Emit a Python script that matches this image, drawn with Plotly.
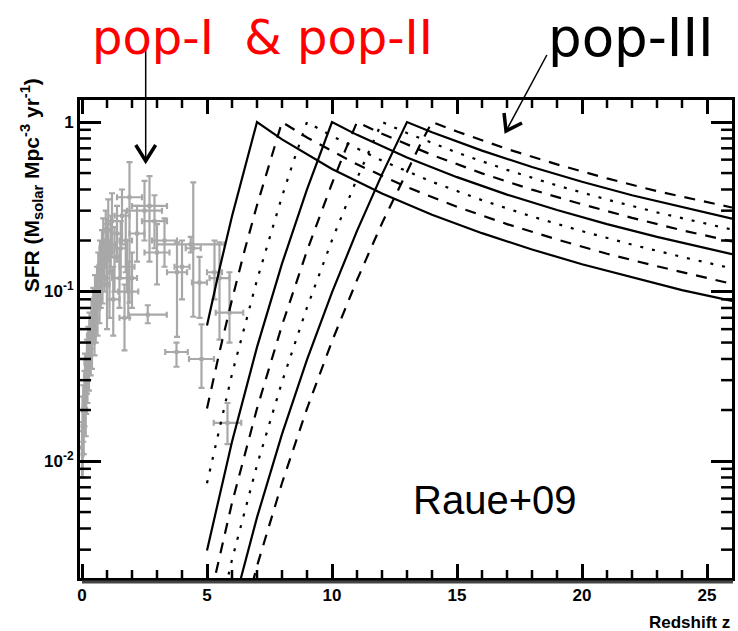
import plotly.graph_objects as go

# ---------------- data ----------------
# Pop-III star formation rate models (Raue+09), peak redshifts 7..14
pop3_peaks = [7, 8, 9, 10, 11, 12, 13, 14]
pop3_styles = ["solid", "dashed", "dotted", "solid", "dashed", "dotted", "solid", "dashed"]

z_p7 = [5, 5.5, 6, 6.5, 7, 8, 10, 12, 14, 16, 18, 20, 22, 24, 26]
s_p7 = [0.063, 0.136, 0.278, 0.538, 1.0, 0.79, 0.529, 0.379, 0.284, 0.221, 0.177, 0.145, 0.121, 0.102, 0.088]

z_p8 = [5, 5.5, 6, 6.5, 7, 7.5, 8, 9, 11, 13, 15, 17, 19, 21, 23, 26]
s_p8 = [0.0204, 0.044, 0.0896, 0.174, 0.323, 0.578, 1.0, 0.81, 0.563, 0.413, 0.316, 0.25, 0.203, 0.167, 0.141, 0.111]

z_p9 = [5, 6, 7, 8, 8.5, 9, 10, 12, 14, 16, 18, 20, 22, 24, 26]
s_p9 = [0.0074, 0.0326, 0.117, 0.364, 0.611, 1.0, 0.826, 0.592, 0.444, 0.346, 0.277, 0.227, 0.189, 0.16, 0.137]

z_p10 = [5, 6, 7, 8, 9, 9.5, 10, 11, 13, 15, 17, 19, 21, 23, 26]
s_p10 = [0.00297, 0.013, 0.047, 0.146, 0.40, 0.64, 1.0, 0.84, 0.617, 0.473, 0.373, 0.3025, 0.25, 0.21, 0.166]

z_p11 = [5, 6, 7, 8, 9, 10, 10.5, 11, 12, 14, 16, 18, 20, 22, 24, 26]
s_p11 = [0.00129, 0.00566, 0.0204, 0.0632, 0.174, 0.434, 0.665, 1.0, 0.852, 0.64, 0.498, 0.399, 0.327, 0.272, 0.23, 0.1975]

z_p12 = [5, 6, 7, 8, 9, 10, 11, 11.5, 12, 13, 15, 17, 19, 21, 23, 26]
s_p12 = [0.0006, 0.00262, 0.00946, 0.0293, 0.0806, 0.201, 0.464, 0.686, 1.0, 0.862, 0.66, 0.522, 0.4225, 0.349, 0.293, 0.232]

z_p13 = [6, 7, 8, 9, 10, 11, 12, 12.5, 13, 14, 16, 18, 20, 22, 24, 26]
s_p13 = [0.00129, 0.00465, 0.0144, 0.0396, 0.0988, 0.228, 0.491, 0.705, 1.0, 0.871, 0.678, 0.543, 0.444, 0.37, 0.314, 0.269]

z_p14 = [6, 7, 8, 9, 10, 11, 12, 13, 13.5, 14, 15, 17, 19, 21, 23, 26]
s_p14 = [0.00066, 0.0024, 0.00742, 0.0204, 0.0509, 0.117, 0.253, 0.516, 0.722, 1.0, 0.879, 0.694, 0.5625, 0.465, 0.391, 0.313]

pop3_z = [z_p7, z_p8, z_p9, z_p10, z_p11, z_p12, z_p13, z_p14]
pop3_s = [s_p7, s_p8, s_p9, s_p10, s_p11, s_p12, s_p13, s_p14]

# Pop-I/II SFR measurements (grey points with error bars)
obs_z = [0.0, 0.02, 0.03, 0.05, 0.07, 0.10, 0.12, 0.15, 0.17, 0.20, 0.22, 0.25, 0.28, 0.30, 0.35,
         0.38, 0.40, 0.45, 0.50, 0.52, 0.55, 0.60, 0.62, 0.65, 0.70, 0.72, 0.75, 0.80, 0.82, 0.85,
         0.90, 0.95, 1.00, 1.00, 1.05, 1.10, 1.15, 1.20, 1.25, 1.30, 1.40, 1.50, 1.55, 1.60, 1.70,
         1.75, 1.80, 1.90, 2.20, 2.50, 2.70, 2.90, 2.63, 3.00, 3.30, 3.80, 3.78, 4.35, 4.45, 4.00,
         4.70, 4.78, 5.30, 5.50, 5.90, 5.82, 2.00, 1.85]
obs_s = [0.012, 0.016, 0.011, 0.020, 0.015, 0.024, 0.032, 0.020, 0.028, 0.038, 0.030, 0.045, 0.036, 0.055, 0.045,
         0.065, 0.050, 0.075, 0.060, 0.090, 0.070, 0.100, 0.080, 0.120, 0.090, 0.140, 0.110, 0.160, 0.120, 0.180,
         0.140, 0.200, 0.110, 0.170, 0.230, 0.130, 0.190, 0.260, 0.090, 0.160, 0.220, 0.120, 0.180, 0.280, 0.070,
         0.200, 0.140, 0.360, 0.220, 0.300, 0.320, 0.260, 0.073, 0.170, 0.200, 0.130, 0.044, 0.190, 0.180, 0.140,
         0.113, 0.040, 0.130, 0.120, 0.075, 0.0168, 0.120, 0.100]
obs_zerr = [0.0, 0.02, 0.03, 0.05, 0.03, 0.05, 0.04, 0.05, 0.05, 0.10, 0.05, 0.05, 0.08, 0.10, 0.05,
            0.08, 0.10, 0.05, 0.10, 0.10, 0.05, 0.10, 0.10, 0.05, 0.10, 0.10, 0.05, 0.10, 0.10, 0.15,
            0.10, 0.10, 0.10, 0.20, 0.15, 0.10, 0.20, 0.20, 0.25, 0.20, 0.20, 0.30, 0.25, 0.30, 0.20,
            0.25, 0.30, 0.50, 0.30, 0.70, 0.70, 0.50, 0.76, 0.50, 0.50, 0.40, 0.45, 1.35, 0.30, 0.30,
            0.30, 0.50, 0.30, 0.40, 0.55, 0.55, 0.20, 0.40]
obs_lo = [0.008, 0.010, 0.008, 0.013, 0.011, 0.016, 0.022, 0.014, 0.019, 0.025, 0.022, 0.030, 0.026, 0.040, 0.032,
          0.046, 0.035, 0.050, 0.042, 0.065, 0.050, 0.070, 0.055, 0.085, 0.065, 0.100, 0.080, 0.110, 0.085, 0.120,
          0.100, 0.140, 0.060, 0.120, 0.150, 0.070, 0.130, 0.170, 0.055, 0.100, 0.150, 0.080, 0.120, 0.190, 0.045,
          0.130, 0.100, 0.086, 0.150, 0.200, 0.150, 0.180, 0.065, 0.110, 0.140, 0.054, 0.036, 0.170, 0.071, 0.090,
          0.070, 0.027, 0.090, 0.052, 0.050, 0.0126, 0.080, 0.070]
obs_hi = [0.017, 0.024, 0.015, 0.028, 0.020, 0.034, 0.043, 0.028, 0.040, 0.052, 0.040, 0.062, 0.050, 0.075, 0.062,
          0.090, 0.070, 0.105, 0.085, 0.125, 0.100, 0.140, 0.110, 0.170, 0.125, 0.200, 0.150, 0.230, 0.170, 0.270,
          0.200, 0.300, 0.170, 0.250, 0.350, 0.200, 0.280, 0.380, 0.140, 0.240, 0.320, 0.180, 0.260, 0.400, 0.110,
          0.300, 0.200, 0.580, 0.320, 0.450, 0.480, 0.370, 0.083, 0.250, 0.270, 0.195, 0.050, 0.210, 0.440, 0.200,
          0.160, 0.064, 0.200, 0.195, 0.130, 0.022, 0.170, 0.150]

y_tickvals = [0.01, 0.1, 1]
y_ticktext = ["<b>10<sup>-2</sup></b>", "<b>10<sup>-1</sup></b>", "<b>1</b>"]
y_minor = [0.003, 0.004, 0.005, 0.006, 0.007, 0.008, 0.009,
           0.02, 0.03, 0.04, 0.05, 0.06, 0.07, 0.08, 0.09,
           0.2, 0.3, 0.4, 0.5, 0.6, 0.7, 0.8, 0.9]
x_tickvals = [0, 5, 10, 15, 20, 25]
x_ticktext = ["<b>%d</b>" % v for v in x_tickvals]
x_minor = [v for v in range(1, 26) if v % 5 != 0]

# ---------------- layout geometry ----------------
W, H = 738, 631
ML, MR, MT, MB = 80, 3, 100, 53
PW, PH = W - ML - MR, H - MT - MB
XR = [-0.08, 26.0]
YR = [-2.69, 0.13]   # log10 range


def pp(x, y):
    """pixel -> paper coordinates"""
    return (x - ML) / PW, (H - MB - y) / PH


dash_map = {"solid": "solid", "dashed": "11px,9px", "dotted": "3px,9px"}

fig = go.Figure()

fig.add_trace(go.Scatter(
    x=obs_z, y=obs_s, mode="markers",
    marker=dict(symbol="square", size=4, color="#a8a8a8"),
    error_x=dict(type="data", array=obs_zerr, color="#a8a8a8", thickness=2.2, width=3),
    error_y=dict(type="data", symmetric=False,
                 array=[h - s for h, s in zip(obs_hi, obs_s)],
                 arrayminus=[s - l for s, l in zip(obs_s, obs_lo)],
                 color="#a8a8a8", thickness=2.2, width=3),
    showlegend=False, hoverinfo="skip"))

for zz, ss, st in zip(pop3_z, pop3_s, pop3_styles):
    fig.add_trace(go.Scatter(x=zz, y=ss, mode="lines",
                             line=dict(color="black", width=2.2, dash=dash_map[st]),
                             showlegend=False, hoverinfo="skip"))


# ---- minor tick marks drawn as line traces (inside, on all four sides) ----
def x_tick_trace(vals, length_px, width):
    yb0 = 10 ** YR[0]
    yb1 = 10 ** (YR[0] + length_px / PH * (YR[1] - YR[0]))
    yt0 = 10 ** YR[1]
    yt1 = 10 ** (YR[1] - length_px / PH * (YR[1] - YR[0]))
    xs, ys = [], []
    for v in vals:
        xs += [v, v, None, v, v, None]
        ys += [yb0, yb1, None, yt0, yt1, None]
    return go.Scatter(x=xs, y=ys, mode="lines", line=dict(color="black", width=width),
                      showlegend=False, hoverinfo="skip", connectgaps=False)


def y_tick_trace(vals, length_px, width):
    xl0 = XR[0]
    xl1 = XR[0] + length_px / PW * (XR[1] - XR[0])
    xr0 = XR[1]
    xr1 = XR[1] - length_px / PW * (XR[1] - XR[0])
    xs, ys = [], []
    for v in vals:
        xs += [xl0, xl1, None, xr0, xr1, None]
        ys += [v, v, None, v, v, None]
    return go.Scatter(x=xs, y=ys, mode="lines", line=dict(color="black", width=width),
                      showlegend=False, hoverinfo="skip", connectgaps=False)


fig.add_trace(x_tick_trace(x_minor, 8, 2.5))
fig.add_trace(y_tick_trace(y_minor, 11, 2.5))

tickfont = dict(family="Liberation Sans, Arial, sans-serif", size=17, color="black")

# major ticks drawn natively by the axes, mirrored to the top/right
fig.update_layout(
    width=W, height=H,
    margin=dict(l=ML, r=MR, t=MT, b=MB, pad=0),
    paper_bgcolor="white", plot_bgcolor="white",
    xaxis=dict(range=XR, showgrid=False, zeroline=False,
               showline=True, linecolor="black", linewidth=3, mirror="allticks",
               ticks="inside", ticklen=14, tickwidth=3, tickcolor="black",
               tickmode="array", tickvals=x_tickvals, ticktext=x_ticktext,
               tickfont=tickfont),
    yaxis=dict(type="log", range=YR, showgrid=False, zeroline=False,
               showline=True, linecolor="black", linewidth=3, mirror="allticks",
               ticks="inside", ticklen=21, tickwidth=3, tickcolor="black",
               tickmode="array", tickvals=y_tickvals, ticktext=y_ticktext,
               tickfont=tickfont),
)

annots = []
# axis titles
x0, y0 = pp(735, 622)
annots.append(dict(text="<b>Redshift z</b>", x=x0, y=y0, xref="paper", yref="paper",
                   xanchor="right", yanchor="middle", showarrow=False,
                   font=dict(family="Liberation Sans, Arial, sans-serif", size=17, color="black")))
x0, y0 = pp(31, 185)
annots.append(dict(text="<b>SFR (M<sub>solar</sub> Mpc<sup>-3</sup> yr<sup>-1</sup>)</b>", x=x0, y=y0,
                   xref="paper", yref="paper", textangle=-90, xanchor="center", yanchor="middle",
                   showarrow=False,
                   font=dict(family="Liberation Sans, Arial, sans-serif", size=21, color="black")))
# big labels
x0, y0 = pp(263, 37)
annots.append(dict(text="pop-I  &amp; pop-II", x=x0, y=y0, xref="paper", yref="paper",
                   xanchor="center", yanchor="middle", showarrow=False,
                   font=dict(family="DejaVu Sans, sans-serif", size=48, color="#ff0000")))
x0, y0 = pp(634, 37)
annots.append(dict(text="pop-III", x=x0, y=y0, xref="paper", yref="paper",
                   xanchor="center", yanchor="middle", showarrow=False,
                   font=dict(family="DejaVu Sans, sans-serif", size=53, color="black")))
x0, y0 = pp(496, 500)
annots.append(dict(text="Raue+09", x=x0, y=y0, xref="paper", yref="paper",
                   xanchor="center", yanchor="middle", showarrow=False,
                   font=dict(family="Liberation Sans, Arial, sans-serif", size=40, color="black")))
fig.update_layout(annotations=annots)


def seg_path(points):
    s = ""
    for i, (x, y) in enumerate(points):
        u, v = pp(x, y)
        s += ("M" if i == 0 else "L") + " %.5f %.5f " % (u, v)
    return s


shapes = []
# shadow under the bottom axis
shapes.append(dict(type="path", xref="paper", yref="paper", path=seg_path([(82, 582), (736, 582)]),
                   line=dict(color="#444444", width=3)))
# arrow for pop-I/II
shapes.append(dict(type="path", xref="paper", yref="paper", path=seg_path([(146, 46), (146, 161)]),
                   line=dict(color="black", width=1.5)))
shapes.append(dict(type="path", xref="paper", yref="paper",
                   path=seg_path([(136, 145), (146, 161), (156, 145)]),
                   line=dict(color="black", width=3.5)))
# arrow for pop-III
shapes.append(dict(type="path", xref="paper", yref="paper", path=seg_path([(549, 55), (508, 131)]),
                   line=dict(color="black", width=1.5)))
shapes.append(dict(type="path", xref="paper", yref="paper",
                   path=seg_path([(524, 123), (508, 131), (506, 113)]),
                   line=dict(color="black", width=3.5)))
fig.update_layout(shapes=shapes)

fig.write_html("out.html")
